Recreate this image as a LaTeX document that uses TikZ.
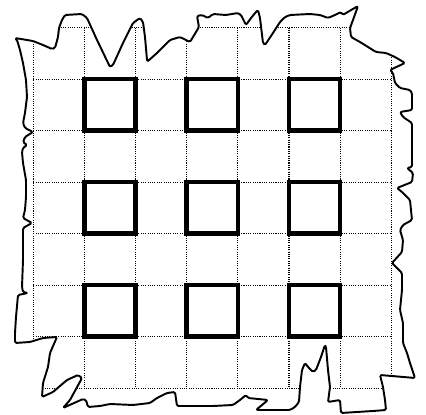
\documentclass[tikz,border=0pt]{standalone}

% torn sheet outline, in pixel units of the sheet
\newcommand\tornedge{(15,38) -- (33,41) -- (43,45) -- (52,49) -- (55,48) -- (58,37)
  -- (59,28) -- (62,20) -- (65,15) -- (82,14) -- (87,18) -- (97,40) -- (110,67)
  -- (113,65) -- (123,43) -- (133,23) -- (140,18) -- (143,22) -- (145,37)
  -- (147,60) -- (148,61) -- (157,53) -- (170,40) -- (180,37) -- (190,42)
  -- (199,27) -- (197,16) -- (202,15) -- (208,18) -- (213,14) -- (226,15)
  -- (238,13) -- (241,15) -- (246,25) -- (251,18) -- (256,12) -- (258,10)
  -- (260,18) -- (263,43) -- (265,45) -- (273,33) -- (280,22) -- (285,17)
  -- (290,15) -- (310,14) -- (320,15) -- (328,18) -- (335,15) -- (341,12)
  -- (343,15) -- (346,13) -- (358,6) -- (353,20) -- (350,28) -- (351,37)
  -- (360,42) -- (376,52) -- (386,53) -- (395,57) -- (405,63) -- (390,70)
  -- (393,73) -- (395,83) -- (400,88) -- (410,90) -- (412,93) -- (412,110)
  -- (400,112) -- (403,117) -- (412,123) -- (412,167) -- (407,168) -- (413,173)
  -- (412,182) -- (397,188) -- (402,192) -- (410,200) -- (412,220) -- (403,225)
  -- (400,230) -- (403,240) -- (402,252) -- (392,263) -- (402,273) -- (402,290)
  -- (400,310) -- (403,323) -- (403,343) -- (407,353) -- (410,363) -- (415,378)
  -- (380,375) -- (383,387) -- (385,400) -- (386,410) -- (373,411) -- (341,413)
  -- (340,400) -- (328,402) -- (330,387) -- (328,370) -- (326,347) -- (325,345)
  -- (321,357) -- (316,370) -- (313,372) -- (308,367) -- (305,363) -- (302,370)
  -- (300,387) -- (299,402) -- (295,407) -- (290,410) -- (256,410) -- (268,400)
  -- (248,398) -- (246,395) -- (240,400) -- (233,405) -- (213,406) -- (177,406)
  -- (175,392) -- (167,393) -- (157,398) -- (150,403) -- (133,405) -- (110,404)
  -- (100,406) -- (88,407) -- (86,400) -- (83,399) -- (63,408) -- (70,400)
  -- (82,378) -- (78,375) -- (67,380) -- (53,392) -- (42,397) -- (43,383)
  -- (48,367) -- (50,353) -- (57,337) -- (43,338) -- (30,342) -- (15,343)
  -- (15,333) -- (16,317) -- (18,295) -- (28,293) -- (23,292) -- (22,287)
  -- (23,260) -- (23,235) -- (23,228) -- (32,223) -- (23,218) -- (25,210)
  -- (26,197) -- (26,180) -- (23,163) -- (22,152) -- (23,148) -- (27,145)
  -- (23,142) -- (25,137) -- (33,132) -- (25,128) -- (23,123) -- (25,113)
  -- (27,97) -- (26,80) -- (23,63) -- (20,50) -- (17,40) -- cycle}

\begin{document}
\begin{tikzpicture}[
    x=0.2mm, y=-0.2mm,
    gridline/.style={line width=0.6pt, dash pattern=on 0.6pt off 0.7pt},
    cellbox/.style={line width=2.6pt},
    tornline/.style={line width=1.1pt, line join=round, rounded corners=0.8pt}
  ]
  \useasboundingbox (0,0) rectangle (426,415);

  % dotted grid, cut to the sheet
  \begin{scope}
    \clip \tornedge;
    \foreach \k in {0,...,7} {
      \draw[gridline] ({33.3+51.14*\k},27.7) -- ({33.3+51.14*\k},388.3);
      \draw[gridline] (33.3,{27.7+51.5*\k}) -- (391.3,{27.7+51.5*\k});
    }
  \end{scope}

  % the nine squares
  \foreach \i in {1,3,5}
    \foreach \j in {1,3,5}
      \draw[cellbox] ({33.3+51.14*\i},{27.7+51.5*\j}) rectangle ++(51.14,51.5);

  \draw[tornline] \tornedge;
\end{tikzpicture}
\end{document}
